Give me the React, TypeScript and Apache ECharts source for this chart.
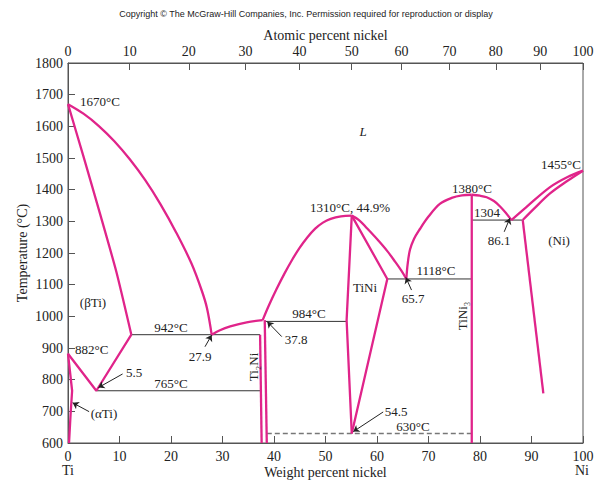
import React, { useEffect, useRef } from "react";
import * as echarts from "echarts";

// ---- Data (weight % Ni, °C) ----
const yTicks = [600, 700, 800, 900, 1000, 1100, 1200, 1300, 1400, 1500, 1600, 1700, 1800];
const wtTicks = [0, 10, 20, 30, 40, 50, 60, 70, 80, 90, 100];
const atTicks = [0, 10, 20, 30, 40, 50, 60, 70, 80, 90, 100];
const M_TI = 47.87;
const M_NI = 58.69;

const liquidusBetaTi = [[0, 1670], [3, 1640], [6, 1601], [9, 1553], [12, 1496], [15, 1430], [18, 1353], [21, 1265], [24, 1166], [26, 1080], [27, 1025], [27.9, 942]];
const solidusBetaTi = [[0, 1670], [3, 1505], [6.2, 1325], [9.4, 1140], [12.3, 942]];
const betaTransus = [[12.3, 942], [5.5, 765], [0, 882]];
const alphaSolvus = [[0, 882], [0.8, 765], [0.5, 690], [0.2, 600]];
const peritecticTi2Ni = [[27.9, 942], [29.5, 956], [31.5, 968], [34.7, 981], [37.8, 988]];
const liquidusTiNiLeft = [[37.8, 988], [39, 1034], [40.5, 1086], [42, 1134], [43.5, 1178], [45, 1217], [46.5, 1250], [48, 1277], [49.5, 1296], [51, 1308], [53, 1316], [55.1, 1318]];
const liquidusTiNiRight = [[55.1, 1318], [56.5, 1304], [58, 1279], [60, 1244], [62, 1206], [63.5, 1173], [64.7, 1145], [65.7, 1118]];
const solidusTiNiRight = [[55.1, 1318], [62, 1118], [55.1, 630]];
const boundaryTiNiLeft = [[55.1, 1318], [54.1, 988], [55.1, 630]];
const ti2NiLeft = [[37.3, 942], [37.6, 600]];
const ti2NiRight = [[38.2, 988], [38.6, 600]];
const liquidusTiNi3Left = [[65.7, 1118], [65.95, 1165], [66.4, 1210], [67.2, 1245], [68.3, 1275], [70, 1315], [72.2, 1355], [74.5, 1374], [76.5, 1382], [78.4, 1384]];
const liquidusTiNi3Right = [[78.4, 1384], [80, 1381], [81.3, 1376], [82.7, 1364], [83.9, 1347], [85, 1327], [86.1, 1304]];
const tiNi3Line = [[78.4, 1384], [78.4, 600]];
const liquidusNi = [[86.1, 1304], [89, 1345], [93.6, 1408], [97, 1440], [100, 1460]];
const solidusNi = [[88.3, 1304], [90.5, 1340], [93.6, 1388], [97, 1428], [100, 1460]];
const solvusNi = [[88.3, 1304], [92.3, 757]];

const iso942 = [[12.3, 942], [37.3, 942]];
const iso765 = [[5.5, 765], [37.6, 765]];
const iso984 = [[38.2, 984], [54.1, 984]];
const iso1118 = [[62, 1118], [78.4, 1118]];
const iso1304 = [[78.4, 1304], [88.3, 1304]];
const iso630 = [[38.6, 630], [78.4, 630]];

const arrows = [
  [[10.6, 818], [5.9, 775]],
  [[4.1, 699], [0.9, 727]],
  [[26.6, 904], [27.9, 941]],
  [[41.5, 936], [38.7, 983]],
  [[66.7, 1083], [65.6, 1123]],
  [[84.7, 1267], [85.8, 1310]],
  [[61.2, 698], [55.4, 636]],
];

const PINK = "#E0248A";
const INK = "#333";
const SERIF = "'Liberation Serif', 'Times New Roman', serif";

function atToWt(a: number) {
  const ni = a * M_NI;
  const ti = (100 - a) * M_TI;
  return (100 * ni) / (ni + ti);
}

export default function App() {
  const ref = useRef<HTMLDivElement>(null);
  useEffect(() => {
    document.body.style.margin = "0";
    if (!ref.current) return;
    const chart = echarts.init(ref.current, null, { renderer: "svg" });
    const topWt = atTicks.map(atToWt);

    const pinkLine = (data: number[][], smooth: number = 0.35) => ({
      type: "line",
      data,
      showSymbol: false,
      symbol: "none",
      smooth,
      lineStyle: { color: PINK, width: 2.3 },
      silent: true,
      z: 3,
    });
    const blackLine = (data: number[][], dashed = false) => ({
      type: "line",
      data,
      showSymbol: false,
      symbol: "none",
      lineStyle: { color: dashed ? "#777" : INK, width: dashed ? 1.3 : 1, type: dashed ? [5, 3] : "solid" },
      silent: true,
      z: 2,
    });

    const txt = (text: string, x: number, y: number, opts: any = {}) => ({
      type: "text",
      x,
      y,
      rotation: opts.rotation || 0,
      style: {
        text,
        fill: opts.fill || "#222",
        font: opts.font || `13px ${SERIF}`,
        textAlign: opts.align || "center",
        textVerticalAlign: "middle",
      },
      z: 10,
    });

    chart.setOption({
      animation: false,
      grid: {
        left: 68,
        right: 19,
        top: 63,
        bottom: 38,
        show: true,
        borderColor: "#555",
        borderWidth: 1,
        outerBoundsMode: "none",
        containLabel: false,
      },
      xAxis: [
        {
          type: "value",
          min: wtTicks[0],
          max: wtTicks[wtTicks.length - 1],
          interval: 10,
          position: "bottom",
          name: "Weight percent nickel",
          nameLocation: "middle",
          nameGap: 22,
          nameMoveOverlap: false,
          nameTextStyle: { fontFamily: SERIF, fontSize: 14, color: "#222" },
          axisLine: { show: true, lineStyle: { color: "#555", width: 1 } },
          axisTick: { show: true, inside: true, length: 7, lineStyle: { color: "#555" } },
          axisLabel: { fontFamily: SERIF, fontSize: 14, color: "#222", margin: 6 },
          splitLine: { show: false },
        },
        {
          type: "value",
          min: 0,
          max: 100,
          position: "top",
          name: "Atomic percent nickel",
          nameLocation: "middle",
          nameGap: 21,
          nameMoveOverlap: false,
          nameTextStyle: { fontFamily: SERIF, fontSize: 14, color: "#222" },
          axisLine: { show: true, lineStyle: { color: "#555", width: 1 } },
          axisTick: { show: true, inside: true, length: 7, customValues: topWt, lineStyle: { color: "#555" } },
          axisLabel: {
            fontFamily: SERIF,
            fontSize: 14,
            color: "#222",
            margin: 5,
            customValues: topWt,
            formatter: (v: number) => {
              let best = 0;
              let d = 1e9;
              topWt.forEach((w, i) => {
                if (Math.abs(w - v) < d) {
                  d = Math.abs(w - v);
                  best = i;
                }
              });
              return String(atTicks[best]);
            },
          },
          splitLine: { show: false },
        },
      ],
      yAxis: {
        type: "value",
        min: yTicks[0],
        max: yTicks[yTicks.length - 1],
        interval: 100,
        name: "Temperature (°C)",
        nameLocation: "middle",
        nameGap: 39,
        nameMoveOverlap: false,
        nameTextStyle: { fontFamily: SERIF, fontSize: 14, color: "#222" },
        axisLine: { show: true, lineStyle: { color: "#555", width: 1 } },
        axisTick: { show: true, inside: true, length: 7, lineStyle: { color: "#555" } },
        axisLabel: { fontFamily: SERIF, fontSize: 14, color: "#222", margin: 5, formatter: (v: number) => String(v) },
        splitLine: { show: false },
      },
      series: [
        pinkLine(liquidusBetaTi),
        pinkLine(solidusBetaTi, 0.2),
        pinkLine(betaTransus, 0),
        pinkLine(alphaSolvus, 0),
        pinkLine(peritecticTi2Ni),
        pinkLine(liquidusTiNiLeft),
        pinkLine(liquidusTiNiRight),
        pinkLine(solidusTiNiRight, 0),
        pinkLine(boundaryTiNiLeft, 0),
        pinkLine(ti2NiLeft, 0),
        pinkLine(ti2NiRight, 0),
        pinkLine(liquidusTiNi3Left),
        pinkLine(liquidusTiNi3Right),
        pinkLine(tiNi3Line, 0),
        pinkLine(liquidusNi),
        pinkLine(solidusNi),
        pinkLine(solvusNi, 0),
        blackLine(iso942),
        blackLine(iso765),
        blackLine(iso984),
        blackLine(iso1118),
        blackLine(iso1304),
        blackLine(iso630, true),
        {
          type: "lines",
          coordinateSystem: "cartesian2d",
          silent: true,
          symbol: ["none", "arrow"],
          symbolSize: 6,
          lineStyle: { color: "#222", width: 1, opacity: 1 },
          data: arrows.map((a) => ({ coords: a })),
          z: 4,
        },
      ],
      graphic: [
        txt("Copyright © The McGraw-Hill Companies, Inc. Permission required for reproduction or display", 306, 14, {
          font: "9px 'Liberation Sans', Arial, sans-serif",
        }),
        txt("1670°C", 80, 101, { align: "left" }),
        txt("(βTi)", 93, 302),
        txt("882°C", 75, 349, { align: "left" }),
        txt("942°C", 171, 327),
        txt("5.5", 126, 372, { align: "left" }),
        txt("765°C", 171, 383),
        txt("(αTi)", 104, 413),
        txt("27.9", 200, 356),
        txt("Ti₂Ni", 253, 367, { rotation: Math.PI / 2 }),
        txt("37.8", 296, 339),
        txt("984°C", 309, 313),
        txt("TiNi", 365, 287),
        txt("1310°C, 44.9%", 350, 207),
        txt("1118°C", 436, 270),
        txt("65.7", 413, 298),
        txt("TiNi₃", 462, 316, { rotation: Math.PI / 2 }),
        txt("1380°C", 472, 188),
        txt("1304", 487, 212),
        txt("86.1", 499, 240),
        txt("(Ni)", 559, 240),
        txt("1455°C", 561, 164),
        txt("L", 363, 131, { font: `italic 13px ${SERIF}` }),
        txt("54.5", 396, 411),
        txt("630°C", 413, 426),
        txt("Ti", 68, 470, { font: `14px ${SERIF}` }),
        txt("Ni", 582, 470, { font: `14px ${SERIF}` }),
      ],
    });
    return () => chart.dispose();
  }, []);
  return <div ref={ref} style={{ width: 602, height: 481 }} />;
}
